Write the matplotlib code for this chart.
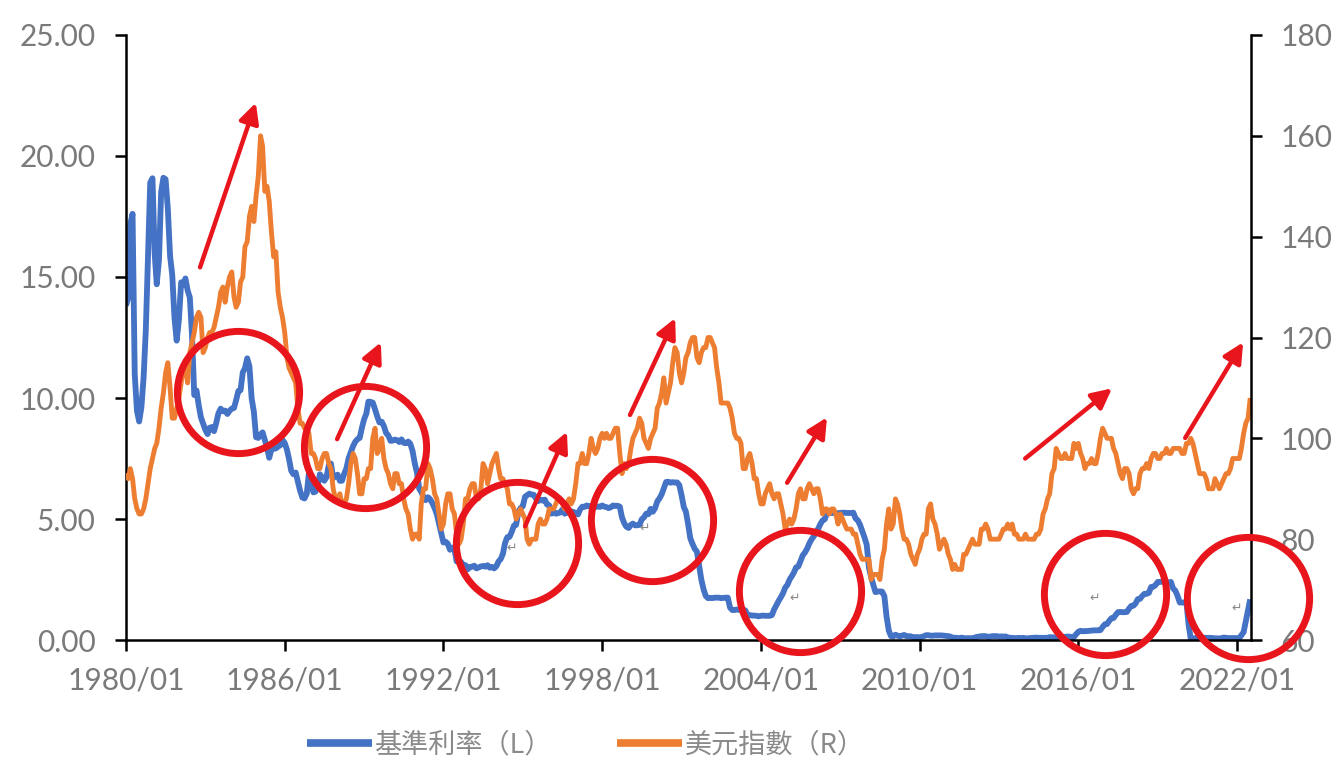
"""Fed funds rate vs. US dollar index, 1980-2022, with highlighted hiking cycles."""

import matplotlib

matplotlib.use("Agg")
import matplotlib.dates as mdates
import matplotlib.pyplot as plt
import numpy as np
import pandas as pd

# monthly effective fed funds rate (%), one row per year, 1980/01 .. 2022/07
fed_funds = [
    13.82, 14.13, 17.19, 17.61, 10.98, 9.47, 9.03, 9.61, 10.87, 12.81, 15.85, 18.90,  # 1980
    19.08, 15.93, 14.70, 15.72, 18.52, 19.10, 19.04, 17.82, 15.87, 15.08, 13.31, 12.37,  # 1981
    13.22, 14.78, 14.68, 14.94, 14.45, 14.15, 12.59, 10.12, 10.31, 9.71, 9.20, 8.95,  # 1982
    8.68, 8.51, 8.77, 8.80, 8.63, 8.98, 9.37, 9.56, 9.45, 9.48, 9.34, 9.47,  # 1983
    9.56, 9.59, 9.91, 10.29, 10.32, 11.06, 11.23, 11.64, 11.30, 9.99, 9.43, 8.38,  # 1984
    8.35, 8.50, 8.58, 8.27, 7.97, 7.53, 7.88, 7.90, 7.92, 7.99, 8.05, 8.27,  # 1985
    8.14, 7.86, 7.48, 6.99, 6.85, 6.92, 6.56, 6.17, 5.89, 5.85, 6.04, 6.91,  # 1986
    6.43, 6.10, 6.13, 6.37, 6.85, 6.73, 6.58, 6.73, 7.22, 7.29, 6.69, 6.77,  # 1987
    6.83, 6.58, 6.58, 6.87, 7.09, 7.51, 7.75, 8.01, 8.19, 8.30, 8.35, 8.76,  # 1988
    9.12, 9.36, 9.85, 9.84, 9.81, 9.53, 9.24, 8.99, 9.02, 8.84, 8.55, 8.45,  # 1989
    8.23, 8.24, 8.28, 8.26, 8.18, 8.29, 8.15, 8.13, 8.20, 8.11, 7.81, 7.31,  # 1990
    6.91, 6.25, 6.12, 5.91, 5.78, 5.90, 5.82, 5.66, 5.45, 5.21, 4.81, 4.43,  # 1991
    4.03, 4.06, 3.98, 3.73, 3.82, 3.76, 3.25, 3.30, 3.22, 3.10, 3.09, 2.92,  # 1992
    3.02, 3.03, 3.07, 2.96, 3.00, 3.04, 3.06, 3.03, 3.09, 2.99, 3.02, 2.96,  # 1993
    3.05, 3.25, 3.34, 3.56, 4.01, 4.25, 4.26, 4.47, 4.73, 4.76, 5.29, 5.45,  # 1994
    5.53, 5.92, 5.98, 6.05, 6.01, 6.00, 5.85, 5.74, 5.80, 5.76, 5.80, 5.60,  # 1995
    5.56, 5.22, 5.31, 5.22, 5.24, 5.27, 5.40, 5.22, 5.30, 5.24, 5.31, 5.29,  # 1996
    5.25, 5.19, 5.39, 5.51, 5.50, 5.56, 5.52, 5.54, 5.54, 5.50, 5.52, 5.50,  # 1997
    5.56, 5.51, 5.49, 5.45, 5.49, 5.56, 5.54, 5.55, 5.51, 5.07, 4.83, 4.68,  # 1998
    4.63, 4.76, 4.81, 4.74, 4.74, 4.76, 4.99, 5.07, 5.22, 5.20, 5.42, 5.30,  # 1999
    5.45, 5.73, 5.85, 6.02, 6.27, 6.53, 6.54, 6.50, 6.52, 6.51, 6.51, 6.40,  # 2000
    5.98, 5.49, 5.31, 4.80, 4.21, 3.97, 3.77, 3.65, 3.07, 2.49, 2.09, 1.82,  # 2001
    1.73, 1.74, 1.73, 1.75, 1.75, 1.75, 1.73, 1.74, 1.75, 1.75, 1.34, 1.24,  # 2002
    1.24, 1.26, 1.25, 1.26, 1.26, 1.22, 1.01, 1.03, 1.01, 1.01, 1.00, 0.98,  # 2003
    1.00, 1.01, 1.00, 1.00, 1.00, 1.03, 1.26, 1.43, 1.61, 1.76, 1.93, 2.16,  # 2004
    2.28, 2.50, 2.63, 2.79, 3.00, 3.04, 3.26, 3.50, 3.62, 3.78, 4.00, 4.16,  # 2005
    4.29, 4.49, 4.59, 4.79, 4.94, 4.99, 5.24, 5.25, 5.25, 5.25, 5.25, 5.24,  # 2006
    5.25, 5.26, 5.26, 5.25, 5.25, 5.25, 5.26, 5.02, 4.94, 4.76, 4.49, 4.24,  # 2007
    3.94, 2.98, 2.61, 2.28, 1.98, 2.00, 2.01, 2.00, 1.81, 0.97, 0.39, 0.16,  # 2008
    0.15, 0.22, 0.18, 0.15, 0.18, 0.21, 0.16, 0.16, 0.15, 0.12, 0.12, 0.12,  # 2009
    0.11, 0.13, 0.16, 0.20, 0.20, 0.18, 0.18, 0.19, 0.19, 0.19, 0.19, 0.18,  # 2010
    0.17, 0.16, 0.14, 0.10, 0.09, 0.09, 0.07, 0.10, 0.08, 0.07, 0.08, 0.07,  # 2011
    0.08, 0.10, 0.13, 0.14, 0.16, 0.16, 0.16, 0.13, 0.14, 0.16, 0.16, 0.16,  # 2012
    0.14, 0.15, 0.14, 0.15, 0.11, 0.09, 0.09, 0.08, 0.08, 0.09, 0.08, 0.09,  # 2013
    0.07, 0.07, 0.08, 0.09, 0.09, 0.10, 0.09, 0.09, 0.09, 0.09, 0.09, 0.12,  # 2014
    0.11, 0.11, 0.11, 0.12, 0.12, 0.13, 0.13, 0.14, 0.14, 0.12, 0.12, 0.24,  # 2015
    0.34, 0.38, 0.36, 0.37, 0.37, 0.38, 0.39, 0.40, 0.40, 0.40, 0.41, 0.54,  # 2016
    0.65, 0.66, 0.79, 0.90, 0.91, 1.04, 1.15, 1.16, 1.15, 1.15, 1.16, 1.30,  # 2017
    1.41, 1.42, 1.51, 1.69, 1.70, 1.82, 1.91, 1.91, 1.95, 2.19, 2.20, 2.27,  # 2018
    2.40, 2.40, 2.41, 2.42, 2.39, 2.38, 2.40, 2.13, 2.04, 1.83, 1.55, 1.55,  # 2019
    1.55, 1.58, 0.65, 0.05, 0.05, 0.08, 0.09, 0.10, 0.09, 0.09, 0.09, 0.09,  # 2020
    0.09, 0.08, 0.07, 0.07, 0.06, 0.08, 0.10, 0.09, 0.08, 0.08, 0.08, 0.08,  # 2021
    0.08, 0.08, 0.20, 0.33, 0.77, 1.21, 1.68,  # 2022
]

# monthly US dollar index, same months
dollar_index = [
    93, 92, 94, 92, 88, 86, 85, 85, 86, 88, 91, 94,  # 1980
    96, 98, 99, 102, 106, 109, 113, 115, 110, 104, 104, 106,  # 1981
    108, 111, 114, 114, 111, 117, 119, 121, 124, 125, 124, 117,  # 1982
    118, 120, 121, 121, 122, 124, 126, 129, 130, 127, 130, 132,  # 1983
    133, 128, 126, 127, 131, 132, 138, 139, 144, 146, 143, 148,  # 1984
    152, 160, 158, 149, 150, 147, 141, 136, 137, 129, 126, 124,  # 1985
    121, 116, 114, 113, 112, 111, 106, 103, 103, 102, 102, 101,  # 1986
    97, 97, 96, 94, 94, 96, 97, 97, 95, 94, 90, 88,  # 1987
    88, 89, 87, 87, 88, 91, 95, 97, 96, 93, 89, 89,  # 1988
    92, 92, 94, 94, 100, 102, 97, 98, 100, 96, 94, 93,  # 1989
    91, 90, 93, 93, 91, 91, 88, 86, 85, 82, 80, 81,  # 1990
    81, 80, 87, 90, 90, 95, 94, 92, 89, 88, 85, 82,  # 1991
    83, 87, 89, 89, 86, 85, 81, 79, 80, 83, 88, 88,  # 1992
    90, 91, 91, 88, 88, 90, 95, 94, 91, 93, 95, 96,  # 1993
    97, 94, 92, 92, 91, 90, 87, 87, 86, 84, 85, 86,  # 1994
    85, 84, 80, 79, 80, 80, 80, 83, 84, 83, 83, 84,  # 1995
    86, 86, 86, 87, 88, 88, 87, 86, 87, 88, 87, 88,  # 1996
    91, 95, 95, 97, 95, 95, 97, 100, 98, 97, 98, 100,  # 1997
    101, 100, 101, 100, 100, 101, 102, 102, 97, 93, 95, 94,  # 1998
    95, 98, 100, 101, 102, 104, 103, 100, 99, 98, 100, 101,  # 1999
    102, 106, 107, 109, 112, 107, 109, 111, 115, 118, 117, 113,  # 2000
    111, 113, 116, 117, 119, 120, 120, 116, 115, 117, 118, 118,  # 2001
    120, 120, 119, 118, 114, 111, 107, 107, 107, 107, 106, 104,  # 2002
    101, 100, 100, 99, 94, 94, 96, 97, 95, 92, 92, 89,  # 2003
    87, 87, 89, 90, 91, 89, 88, 89, 89, 87, 85, 82,  # 2004
    83, 84, 83, 84, 86, 89, 90, 88, 88, 90, 91, 90,  # 2005
    89, 90, 90, 88, 85, 86, 86, 85, 86, 86, 85, 83,  # 2006
    85, 84, 83, 82, 82, 82, 81, 81, 79, 77, 76, 76,  # 2007
    76, 76, 72, 73, 73, 73, 72, 76, 78, 83, 86, 82,  # 2008
    83, 88, 87, 85, 82, 80, 80, 79, 77, 76, 75, 77,  # 2009
    78, 80, 81, 81, 86, 87, 84, 83, 81, 78, 79, 80,  # 2010
    79, 77, 76, 74, 75, 74, 74, 74, 77, 77, 78, 79,  # 2011
    80, 79, 79, 79, 82, 82, 83, 82, 80, 80, 80, 80,  # 2012
    80, 81, 82, 82, 83, 82, 83, 81, 81, 80, 80, 80,  # 2013
    81, 80, 80, 80, 80, 81, 81, 82, 85, 86, 88, 89,  # 2014
    93, 94, 98, 97, 96, 96, 97, 96, 96, 96, 99, 98,  # 2015
    99, 97, 96, 94, 95, 95, 96, 95, 95, 97, 100, 102,  # 2016
    101, 100, 100, 100, 98, 97, 95, 93, 92, 94, 94, 93,  # 2017
    90, 89, 90, 90, 93, 94, 94, 95, 94, 96, 97, 97,  # 2018
    96, 96, 97, 97, 98, 97, 97, 98, 98, 98, 98, 97,  # 2019
    97, 99, 99, 100, 99, 97, 95, 93, 93, 93, 92, 90,  # 2020
    90, 90, 92, 91, 90, 91, 92, 93, 93, 94, 96, 96,  # 2021
    96, 96, 98, 101, 103, 104, 108,  # 2022
]

left_ticks = [0, 5, 10, 15, 20, 25]
right_ticks = [60, 80, 100, 120, 140, 160, 180]
tick_years = [1980, 1986, 1992, 1998, 2004, 2010, 2016, 2022]

# highlighted cycles (date, rate on the left axis)
circle_dates = ["1984-03-25", "1989-01-15", "1994-10-10", "1999-11-20", "2005-06-25", "2017-01-05", "2022-05-25"]
circle_rates = [10.25, 7.98, 4.00, 4.96, 2.02, 1.90, 1.74]

arrow_tails = [("1982-10-20", 15.4), ("1987-12-25", 8.3), ("1995-02-01", 4.7), ("1999-01-20", 9.3),
               ("2004-12-28", 6.5), ("2013-12-28", 7.5), ("2020-01-15", 8.35)]
arrow_heads = [("1984-11-28", 22.2), ("1989-08-20", 12.3), ("1996-09-01", 8.6), ("2000-10-05", 13.3),
               ("2006-07-01", 9.2), ("2017-04-10", 10.4), ("2022-03-25", 12.3)]

# stray paragraph marks left in the pasted figure
mark_dates = ["1994-08-01", "1999-08-15", "2005-04-15", "2016-08-20", "2022-01-01"]
mark_rates = [3.80, 4.63, 1.74, 1.74, 1.32]

BLUE = "#4472C4"
ORANGE = "#ED7D31"
RED = "#E8161C"
GREY = "#7a7a7a"

plt.rcParams["font.family"] = ["Lato", "Noto Sans CJK TC", "DejaVu Sans"]

dates = pd.date_range("1980-01-01", periods=len(fed_funds), freq="MS")
x_end = pd.Timestamp("2022-07-12")

fig = plt.figure(figsize=(13.4, 7.74), dpi=100)
ax = fig.add_axes([0.094, 0.1731, 0.8396, 0.7817])
ax2 = ax.twinx()

ax.plot(dates, fed_funds, color=BLUE, linewidth=4.2, solid_joinstyle="round",
        solid_capstyle="butt", label="基準利率（L）")
ax2.plot(dates, dollar_index, color=ORANGE, linewidth=3.5, solid_joinstyle="round",
         solid_capstyle="butt", label="美元指數（R）")

ax.set_yticks(left_ticks)
ax.yaxis.set_major_formatter(matplotlib.ticker.FormatStrFormatter("%.2f"))
ax2.set_yticks(right_ticks)
ax.set_xticks([pd.Timestamp(f"{y}-01-01") for y in tick_years])
ax.xaxis.set_major_formatter(mdates.DateFormatter("%Y/%m"))

for a in (ax, ax2):
    for side in ("left", "right", "bottom", "top"):
        a.spines[side].set_visible(False)
ax.spines["left"].set_visible(True)
ax.spines["bottom"].set_visible(True)
ax2.spines["right"].set_visible(True)
for sp in (ax.spines["left"], ax.spines["bottom"], ax2.spines["right"]):
    sp.set_linewidth(1.8)
    sp.set_color("black")

ax.tick_params(axis="y", direction="out", length=8, width=1.8, pad=14, labelsize=21.5, labelcolor=GREY)
ax.tick_params(axis="x", direction="out", length=8, width=1.8, pad=11, labelsize=21.5, labelcolor=GREY)
ax2.tick_params(axis="y", direction="out", length=8, width=1.8, pad=13, labelsize=21.5, labelcolor=GREY)

# annotations go on the top axes, positioned in left-axis units
for d, r in zip(circle_dates, circle_rates):
    ax2.plot([pd.Timestamp(d)], [r], marker="o", markersize=88, markerfacecolor="none",
             markeredgecolor=RED, markeredgewidth=5, transform=ax.transData,
             clip_on=False, zorder=10)

for (td, tr), (hd, hr) in zip(arrow_tails, arrow_heads):
    ax2.annotate("", xy=(mdates.date2num(pd.Timestamp(hd)), hr),
                 xytext=(mdates.date2num(pd.Timestamp(td)), tr),
                 xycoords=ax.transData, textcoords=ax.transData,
                 arrowprops=dict(arrowstyle="-|>", color=RED, lw=3.2, mutation_scale=30,
                                 shrinkA=0, shrinkB=0),
                 zorder=11, annotation_clip=False)

for d, r in zip(mark_dates, mark_rates):
    ax2.text(mdates.date2num(pd.Timestamp(d)), r, "↵", transform=ax.transData,
             fontsize=9, color="#888888", family=["DejaVu Sans"], ha="center", va="center", zorder=9)

ax.set_ylim(0, 25)
ax2.set_ylim(60, 180)
ax.set_xlim(pd.Timestamp("1980-01-01"), x_end)

handles = ax.get_lines()[:1] + ax2.get_lines()[:1]
leg = fig.legend(handles, [h.get_label() for h in handles], loc="center", bbox_to_anchor=(0.437, 0.037),
                 ncol=2, frameon=False, handlelength=2.4, handletextpad=0.1, columnspacing=2.4,
                 prop={"family": ["Noto Sans CJK TC", "DejaVu Sans"], "size": 19.5})
for line in leg.get_lines():
    line.set_linewidth(5.5)
for t in leg.get_texts():
    t.set_color("#8a8a8a")

fig.savefig("out.png", dpi=100, facecolor="white")
